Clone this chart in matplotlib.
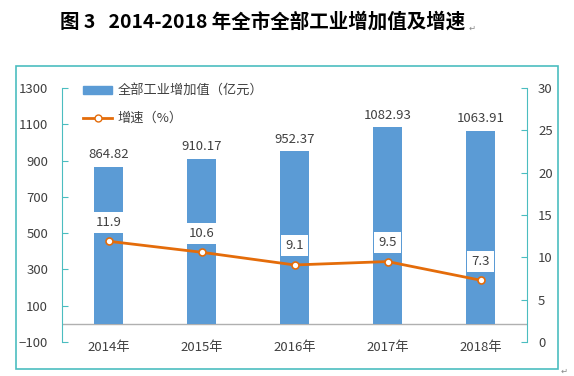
import matplotlib.pyplot as plt
from matplotlib.patches import Rectangle
from matplotlib.lines import Line2D

plt.rcParams['font.family'] = ['Noto Sans CJK SC', 'DejaVu Sans']

years = ["2014年", "2015年", "2016年", "2017年", "2018年"]
value_added = [864.82, 910.17, 952.37, 1082.93, 1063.91]
growth = [11.9, 10.6, 9.1, 9.5, 7.3]

bar_color = '#5B9BD5'
line_color = '#E46C0A'
teal = '#4BBDC0'
txt = '#404040'

fig = plt.figure(figsize=(5.74, 3.76), dpi=100)

# outer frame of the chart
fig.patches.append(Rectangle((16 / 574, 1 - 369 / 376), 542 / 574, 303 / 376,
                             transform=fig.transFigure, fill=False,
                             edgecolor=teal, linewidth=1.2))

fig.text(60 / 574, 1 - 22 / 376, "图 3   2014-2018 年全市全部工业增加值及增速",
         ha='left', va='center', fontsize=14, fontweight='bold', color='black')
fig.text(469 / 574, 1 - 28 / 376, "↵", ha='left', va='center', fontsize=6,
         color='#888888', family=['DejaVu Sans'])
fig.text(561 / 574, 1 - 371 / 376, "↵", ha='left', va='center', fontsize=6,
         color='#888888', family=['DejaVu Sans'])

ax = fig.add_axes([62 / 574, 1 - 342 / 376, 465 / 574, 254 / 376])
x = list(range(len(years)))
ax.bar(x, value_added, width=0.31, color=bar_color, zorder=2)
ax.set_ylim(-100, 1300)
ax.set_yticks(range(-100, 1301, 200))
ax.set_xlim(-0.5, 4.5)
ax.axhline(0, color='#B0B0B0', linewidth=1, zorder=1)
for xi, v in zip(x, value_added):
    ax.annotate(f"{v:.2f}", (xi, v), xytext=(0, 4), textcoords='offset points',
                ha='center', va='bottom', fontsize=9.5, color=txt)

ax.set_xticks(x)
ax.set_xticklabels(years)
ax.tick_params(axis='x', length=0, pad=-1, labelsize=9.5, labelcolor=txt)
ax.tick_params(axis='y', length=4, direction='in', color=teal, labelsize=9.5,
               labelcolor=txt, pad=10)
for s in ['top', 'bottom', 'right']:
    ax.spines[s].set_visible(False)
ax.spines['left'].set_color(teal)

ax2 = ax.twinx()
ax2.plot(x, growth, color=line_color, linewidth=2, marker='o', markersize=5,
         markerfacecolor='white', markeredgecolor=line_color, markeredgewidth=1.2,
         zorder=3)
ax2.set_ylim(0, 30)
ax2.set_yticks(range(0, 31, 5))
ax2.tick_params(axis='y', length=4, direction='in', color=teal, labelsize=9.5,
                labelcolor=txt, pad=8)
for s in ['top', 'bottom', 'left']:
    ax2.spines[s].set_visible(False)
ax2.spines['right'].set_color(teal)
for xi, g in zip(x, growth):
    ax2.annotate(f"{g:.1f}", (xi, g), xytext=(0, 13.7), textcoords='offset points',
                 ha='center', va='center', fontsize=9.5, color=txt,
                 bbox=dict(boxstyle='square,pad=0.3', facecolor='white', edgecolor='none'))

handles = [Rectangle((0, 0), 1, 1, color=bar_color),
           Line2D([0], [0], color=line_color, linewidth=2, marker='o', markersize=5,
                  markerfacecolor='white', markeredgecolor=line_color)]
ax2.legend(handles, ['全部工业增加值（亿元）', '增速（%）'], loc='upper left',
           bbox_to_anchor=(0.02, 1.06), frameon=False, fontsize=9.5,
           handlelength=2.2, handleheight=0.5, handletextpad=0.4,
           labelspacing=1.1, labelcolor=txt)

fig.savefig('out.png', dpi=100)
